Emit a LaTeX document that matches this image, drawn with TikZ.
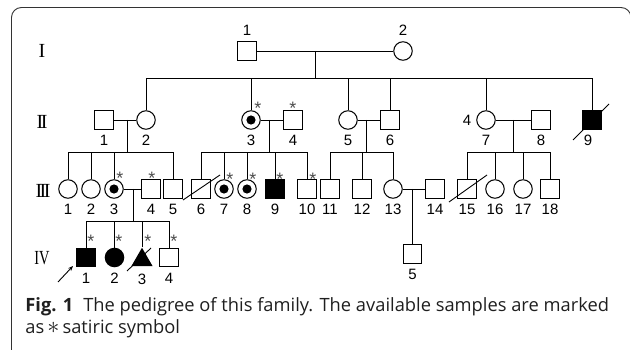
\documentclass[tikz,border=0pt]{standalone}
\usepackage{fontspec}
\usepackage{graphicx}
\usetikzlibrary{shapes.geometric,arrows.meta}
\newfontfamily\labfont{Liberation Sans}
\newfontfamily\romfont{Liberation Serif}
\newfontfamily\capfont{Open Sans}
\begin{document}
\begin{tikzpicture}[x=1pt,y=-1pt, line width=0.9pt,
  ind/.style={draw, inner sep=0pt, minimum size=18.5pt, line width=1pt},
  male/.style={ind, rectangle},
  female/.style={ind, circle},
  aff/.style={fill=black},
  carrier/.style={female, path picture={\fill (path picture bounding box.center) circle[radius=4.6pt];}},
  lbl/.style={font=\labfont\fontsize{15}{15}\selectfont, inner sep=0pt},
  smp/.style={font=\labfont\fontsize{18}{18}\selectfont, inner sep=0pt, anchor=north, yshift=3pt, text=black!70},
  rom/.style={font=\romfont\fontsize{20}{20}\selectfont, inner sep=0pt},
  captxt/.style={font=\capfont\fontsize{18.3}{18.3}\selectfont, inner sep=0pt, anchor=base west, text=black!88},
  every label/.style={lbl},
  label distance=5pt]
\useasboundingbox (0,0) rectangle (630,350);
% frame
\draw[rounded corners=10pt, line width=0.9pt, black!80] (11.5,356) -- (11.5,7.5) -- (631,7.5) -- (631,356);
% generation numerals
\node[rom] (g1) at (42,51) {I};
\node[rom] (g2) at (42,122) {I\kern-2.5pt I};
\node[rom] (g3) at (43,191) {I\kern-2.5pt I\kern-2.5pt I};
\node[rom] (g4) at (42,258) {\scalebox{0.72}[1]{IV}};
% generation I
\node[male, label=above:1] (i1) at (247,51) {};
\node[female, label=above:2] (i2) at (403,51) {};
% generation II
\node[male, label=below:1] (ii1) at (104,120) {};
\node[female, label=below:2] (ii2) at (146,120) {};
\node[carrier, label=below:3] (ii3) at (251,120) {};
\node[male, label=below:4] (ii4) at (293,120) {};
\node[female, label=below:5] (ii5) at (348,120) {};
\node[male, label=below:6] (ii6) at (390,120) {};
\node[female, label=below:7, label={[label distance=4.5pt]left:4}] (ii7) at (486,120) {};
\node[male, label=below:8] (ii8) at (541,120) {};
\node[male, aff, label={[xshift=-4pt]below:9}] (ii9) at (592,120) {};
% generation III
\node[female, label=below:1] (iii1) at (68,189) {};
\node[female, label=below:2] (iii2) at (91,189) {};
\node[carrier, label=below:3] (iii3) at (114,189) {};
\node[male, label=below:4] (iii4) at (151,189) {};
\node[male, label=below:5] (iii5) at (173,189) {};
\node[male, label=below:6] (iii6) at (201,189) {};
\node[carrier, label=below:7] (iii7) at (224,189) {};
\node[carrier, label=below:8] (iii8) at (247,189) {};
\node[male, aff, label=below:9] (iii9) at (275,189) {};
\node[male, label=below:10] (iii10) at (307,189) {};
\node[male, label=below:11] (iii11) at (330,189) {};
\node[male, label=below:12] (iii12) at (362,189) {};
\node[female, label=below:13] (iii13) at (393,189) {};
\node[male, label=below:14] (iii14) at (435,189) {};
\node[male, label=below:15] (iii15) at (467,189) {};
\node[female, label=below:16] (iii16) at (495,189) {};
\node[female, label=below:17] (iii17) at (523,189) {};
\node[male, label=below:18] (iii18) at (550,189) {};
% generation IV
\node[male, aff, label=below:1] (iv1) at (86,257.5) {};
\node[female, aff, label=below:2] (iv2) at (114.5,257.5) {};
\node[regular polygon, regular polygon sides=3, minimum size=24.5pt, inner sep=0pt, fill=black, label={[label distance=6.5pt]below:3}] (iv3) at (142,260) {};
\node[male, label=below:4] (iv4) at (169,257.5) {};
\node[male, label=below:5] (iv5) at (412.5,254) {};
% sample stars
\node[smp] (st1) at (258,105) {*};
\node[smp] (st2) at (293,105) {*};
\node[smp] (st3) at (120,175) {*};
\node[smp] (st4) at (152,175) {*};
\node[smp] (st5) at (230,176) {*};
\node[smp] (st6) at (253,176) {*};
\node[smp] (st7) at (280,176) {*};
\node[smp] (st8) at (313,176) {*};
\node[smp] (st9) at (91,238) {*};
\node[smp] (st10) at (119,238) {*};
\node[smp] (st11) at (148,238) {*};
\node[smp] (st12) at (174,238) {*};
% coordinates of marriage / sibship lines
\coordinate (m1) at (315,51);   \coordinate (s1) at (315,78);
\coordinate (mA) at (127.7,120); \coordinate (sA) at (127.7,152);
\coordinate (mB) at (269.3,120); \coordinate (sB) at (269.3,152);
\coordinate (mC) at (366.7,120); \coordinate (sC) at (366.7,152);
\coordinate (mD) at (513.3,120); \coordinate (sD) at (513.3,152);
\coordinate (mE) at (133,189);   \coordinate (sE) at (133,221);
\coordinate (mF) at (412.5,189);
% generation I family
\draw (i1) -- (i2);
\draw (m1) -- (s1);
\draw (ii2.north |- s1) -- (ii9.north |- s1);
\foreach \n in {ii2,ii3,ii5,ii6,ii7,ii9} \draw (\n.north) -- (\n.north |- s1);
% family A
\draw (ii1) -- (ii2);
\draw (mA) -- (sA);
\draw (iii1.north |- sA) -- (iii5.north |- sA);
\foreach \n in {iii1,iii2,iii3,iii5} \draw (\n.north) -- (\n.north |- sA);
% family B
\draw (ii3) -- (ii4);
\draw (mB) -- (sB);
\draw (iii6.north |- sB) -- (iii10.north |- sB);
\foreach \n in {iii6,iii7,iii8,iii9,iii10} \draw (\n.north) -- (\n.north |- sB);
% family C
\draw (ii5) -- (ii6);
\draw (mC) -- (sC);
\draw (iii11.north |- sC) -- (iii13.north |- sC);
\foreach \n in {iii11,iii12,iii13} \draw (\n.north) -- (\n.north |- sC);
% family D
\draw (ii7) -- (ii8);
\draw (mD) -- (sD);
\draw (iii15.north |- sD) -- (iii18.north |- sD);
\foreach \n in {iii15,iii16,iii17,iii18} \draw (\n.north) -- (\n.north |- sD);
% family E
\draw (iii3) -- (iii4);
\draw (mE) -- (sE);
\draw (iv1.north |- sE) -- (iv4.north |- sE);
\foreach \n in {iv1,iv2,iv3,iv4} \draw (\n.north) -- (\n.north |- sE);
% family F
\draw (iii13) -- (iii14);
\draw (mF) -- (iv5.north);
% deceased slashes
\draw (573,140) -- (609,104);
\draw (183,200) -- (220,175);
\draw (449,202) -- (487,175);
\draw (127,271) -- (151,248);
% proband arrow
\coordinate (arw) at (58,282);
\coordinate (arh) at (73,266);
\draw[-{Stealth[length=5pt,width=4pt]}] (arw) -- (arh);
% caption
\node[captxt, font=\capfont\bfseries\fontsize{18.3}{18.3}\selectfont] (cap0) at (25,312) {Fig. 1};
\node[captxt] (cap1) at ([xshift=9pt]cap0.base east) {The pedigree of this family. The available samples are marked};
\node[captxt] (cap2) at (25,333) {as\,\scalebox{1.4}{$\ast$}\,satiric symbol};
\end{tikzpicture}
\end{document}
